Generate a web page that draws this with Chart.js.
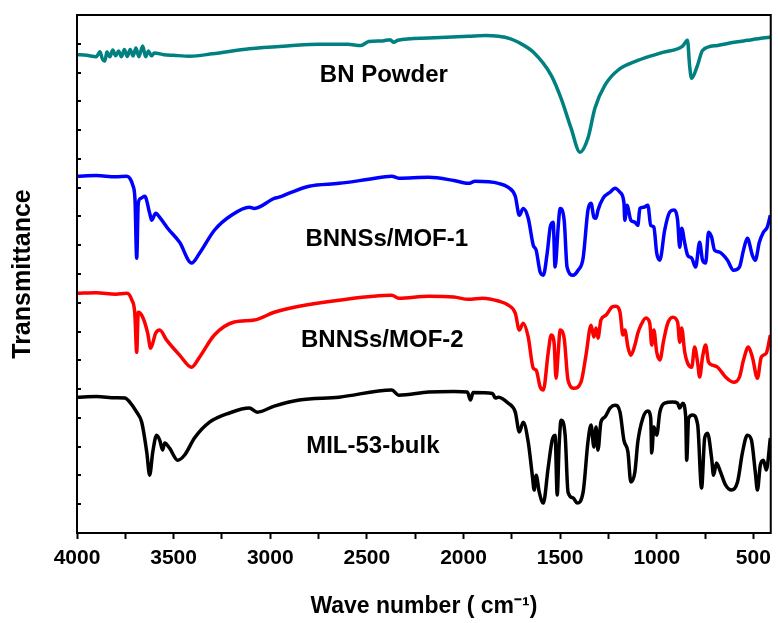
<!DOCTYPE html>
<html>
<head>
<meta charset="utf-8">
<script src="https://cdn.jsdelivr.net/npm/chart.js@4.4.1/dist/chart.umd.min.js"></script>
<style>
  html, body { margin: 0; padding: 0; background: #fff; }
  #wrap { width: 778px; height: 623px; }
</style>
</head>
<body>
<div id="wrap"><canvas id="c" width="778" height="623"></canvas></div>
<script>
// FTIR spectra, stacked with arbitrary offsets (transmittance, a.u.)
const xTicks = [4000, 3750, 3500, 3250, 3000, 2750, 2500, 2250, 2000, 1750, 1500, 1250, 1000, 750, 500];
const yTicks = [0, 1, 2, 3, 4, 5, 6, 7, 8, 9, 10, 11, 12, 13, 14, 15, 16, 17, 18];

const bnWave = [4000, 3950, 3900, 3881, 3870, 3856, 3845, 3830, 3815, 3800, 3785, 3770, 3755, 3740, 3725, 3710, 3695, 3680, 3660, 3645, 3630, 3615, 3600, 3550, 3500, 3417, 3300, 3108, 2900, 2747, 2600, 2531, 2490, 2420, 2380, 2361, 2340, 2180, 1974, 1886, 1819, 1760, 1716, 1639, 1546, 1495, 1443, 1397, 1356, 1320, 1268, 1201, 1098, 969, 866, 841, 830, 820, 789, 763, 686, 600, 531, 450, 412];
const bnT = [16.62, 16.60, 16.55, 16.72, 16.50, 16.40, 16.72, 16.55, 16.78, 16.58, 16.75, 16.55, 16.80, 16.56, 16.80, 16.58, 16.85, 16.55, 16.92, 16.55, 16.75, 16.58, 16.68, 16.62, 16.60, 16.57, 16.65, 16.83, 16.93, 16.98, 16.98, 16.94, 17.08, 17.10, 17.14, 17.05, 17.12, 17.20, 17.26, 17.29, 17.26, 17.18, 17.05, 16.71, 15.90, 15.10, 14.06, 13.23, 13.72, 14.76, 15.56, 16.08, 16.42, 16.70, 16.92, 17.12, 16.25, 15.80, 16.25, 16.77, 16.94, 17.05, 17.12, 17.20, 17.23];

const mof1Wave = [4000, 3900, 3800, 3742, 3727, 3711, 3700, 3691, 3683, 3670, 3649, 3624, 3613, 3593, 3572, 3531, 3469, 3407, 3366, 3289, 3201, 3108, 3082, 2979, 2954, 2902, 2799, 2644, 2490, 2371, 2335, 2180, 2050, 1974, 1940, 1819, 1768, 1732, 1711, 1691, 1665, 1639, 1624, 1603, 1587, 1567, 1551, 1536, 1526, 1510, 1500, 1479, 1464, 1433, 1407, 1381, 1356, 1340, 1325, 1314, 1304, 1278, 1242, 1216, 1190, 1170, 1165, 1154, 1134, 1113, 1098, 1087, 1067, 1046, 1031, 1015, 1000, 984, 959, 933, 912, 892, 881, 871, 855, 840, 819, 799, 778, 763, 747, 732, 716, 701, 675, 634, 603, 572, 551, 531, 505, 490, 469, 448, 428, 412];
const mof1T = [12.40, 12.42, 12.38, 12.40, 12.33, 12.08, 11.60, 9.55, 11.46, 11.63, 11.70, 11.11, 10.87, 11.11, 10.97, 10.59, 10.10, 9.38, 9.72, 10.52, 11.04, 11.32, 11.28, 11.63, 11.67, 11.81, 12.05, 12.15, 12.29, 12.40, 12.33, 12.36, 12.25, 12.15, 12.22, 12.15, 12.01, 11.70, 11.04, 11.28, 10.94, 10.00, 9.83, 9.06, 8.96, 9.72, 10.63, 10.80, 9.24, 10.63, 11.28, 10.87, 9.24, 8.96, 9.13, 9.55, 11.22, 11.46, 10.97, 10.94, 11.22, 11.63, 11.84, 11.98, 11.84, 11.49, 10.87, 11.39, 10.87, 10.80, 10.69, 11.28, 11.32, 11.39, 10.69, 10.63, 9.72, 9.48, 10.52, 11.15, 11.22, 10.87, 9.93, 10.59, 10.07, 9.65, 9.55, 9.24, 10.10, 9.48, 9.38, 10.45, 10.28, 9.83, 9.76, 9.48, 9.13, 9.24, 9.83, 10.24, 9.65, 9.48, 10.10, 10.45, 10.63, 11.04];

const mof2Wave = [4000, 3900, 3800, 3742, 3716, 3701, 3691, 3683, 3660, 3634, 3619, 3593, 3572, 3536, 3469, 3407, 3366, 3289, 3186, 3082, 2979, 2850, 2644, 2371, 2335, 2180, 2050, 1974, 1900, 1819, 1768, 1732, 1711, 1691, 1665, 1639, 1624, 1603, 1587, 1562, 1546, 1531, 1521, 1510, 1500, 1479, 1459, 1428, 1392, 1366, 1340, 1325, 1314, 1304, 1289, 1263, 1232, 1211, 1190, 1175, 1165, 1149, 1134, 1113, 1098, 1082, 1056, 1036, 1026, 1015, 1000, 984, 964, 943, 917, 892, 881, 871, 855, 840, 819, 804, 788, 778, 763, 747, 732, 711, 685, 644, 603, 572, 551, 526, 505, 479, 459, 433, 412];
const mof2T = [8.33, 8.35, 8.30, 8.33, 8.09, 7.64, 6.28, 7.67, 7.50, 6.94, 6.42, 6.94, 7.05, 6.70, 6.18, 5.76, 6.11, 6.88, 7.33, 7.40, 7.67, 7.88, 8.09, 8.26, 8.16, 8.23, 8.20, 8.12, 8.16, 8.06, 7.92, 7.64, 7.05, 7.29, 6.81, 5.73, 5.66, 5.07, 4.97, 6.25, 6.88, 6.60, 5.38, 6.25, 7.05, 6.77, 5.31, 5.03, 5.24, 6.18, 7.22, 6.81, 7.12, 6.77, 7.40, 7.57, 7.85, 7.88, 7.67, 6.88, 7.05, 6.46, 6.18, 6.53, 6.94, 7.22, 7.47, 7.29, 6.53, 7.05, 6.28, 6.01, 6.70, 7.29, 7.50, 7.33, 6.63, 7.12, 6.28, 5.90, 5.76, 6.46, 5.90, 5.42, 6.11, 6.53, 5.94, 5.83, 5.76, 5.42, 5.24, 5.42, 6.01, 6.46, 6.11, 5.38, 6.11, 6.25, 6.88];

const milWave = [4000, 3900, 3800, 3753, 3727, 3691, 3665, 3639, 3624, 3608, 3588, 3572, 3557, 3546, 3521, 3479, 3443, 3392, 3314, 3211, 3108, 3067, 2979, 2850, 2644, 2371, 2335, 2180, 2050, 1980, 1964, 1950, 1850, 1835, 1819, 1768, 1732, 1711, 1691, 1665, 1644, 1634, 1624, 1608, 1587, 1562, 1541, 1526, 1515, 1505, 1495, 1474, 1459, 1433, 1412, 1381, 1356, 1340, 1325, 1314, 1304, 1289, 1268, 1242, 1216, 1190, 1170, 1149, 1134, 1113, 1098, 1072, 1046, 1031, 1026, 1015, 1000, 984, 959, 917, 892, 881, 866, 850, 845, 835, 814, 788, 768, 752, 737, 716, 706, 691, 670, 644, 613, 582, 556, 531, 510, 490, 479, 464, 448, 433, 412];
const milT = [4.72, 4.74, 4.70, 4.69, 4.55, 4.20, 3.85, 2.81, 2.01, 2.81, 3.40, 3.23, 2.88, 3.13, 2.95, 2.53, 2.71, 3.30, 3.85, 4.17, 4.34, 4.20, 4.41, 4.62, 4.72, 4.97, 4.79, 4.90, 4.92, 4.90, 4.62, 4.88, 4.85, 4.69, 4.72, 4.51, 4.20, 3.51, 3.85, 3.16, 2.01, 1.49, 2.01, 1.42, 1.04, 2.26, 3.23, 3.40, 1.32, 3.06, 3.92, 3.40, 1.42, 1.22, 1.04, 1.42, 3.16, 3.75, 2.99, 3.68, 2.88, 3.85, 4.03, 4.34, 4.44, 4.20, 3.23, 2.81, 1.77, 2.12, 3.16, 3.99, 4.24, 3.99, 2.78, 3.68, 3.40, 4.20, 4.51, 4.55, 4.51, 4.34, 4.51, 4.03, 2.53, 3.99, 4.10, 3.75, 1.56, 3.30, 3.47, 2.60, 2.01, 2.43, 2.12, 1.67, 1.49, 1.77, 2.81, 3.40, 3.23, 2.12, 1.49, 2.36, 2.53, 2.19, 3.30];

const seriesNames = ['BN Powder', 'BNNSs/MOF-1', 'BNNSs/MOF-2', 'MIL-53-bulk'];
const seriesColors = ['#008080', '#0000FF', '#FF0000', '#000000'];
// where each curve's name sits (wave number, transmittance)
const labelWave = [2412, 2397, 2420, 2469];
const labelT = [15.90, 10.21, 6.70, 3.02];

const FAM = '"Liberation Sans", Arial, Helvetica, sans-serif';
const pts = (w, t) => w.map((x, i) => ({ x, y: t[i] }));
const waves = [bnWave, mof1Wave, mof2Wave, milWave];
const trans = [bnT, mof1T, mof2T, milT];

// frame, inward y ticks and the curve names
const extras = {
  id: 'extras',
  afterDatasetsDraw(chart) {
    const { ctx, chartArea: a, scales: { x, y } } = chart;
    ctx.save();
    ctx.strokeStyle = '#000';
    ctx.lineWidth = 2;
    ctx.strokeRect(a.left, a.top, a.right - a.left, a.bottom - a.top);
    ctx.beginPath();
    for (const v of yTicks) {
      const py = Math.round(y.getPixelForValue(v));
      ctx.moveTo(a.left, py); ctx.lineTo(a.left + 4, py);
    }
    ctx.stroke();
    ctx.fillStyle = '#000';
    ctx.font = 'bold 24px ' + FAM;
    ctx.textAlign = 'center';
    ctx.textBaseline = 'middle';
    seriesNames.forEach((n, i) => ctx.fillText(n, x.getPixelForValue(labelWave[i]), y.getPixelForValue(labelT[i])));
    ctx.restore();
  },
};

new Chart(document.getElementById('c'), {
  type: 'line',
  data: {
    datasets: seriesNames.map((n, i) => ({
      label: n, data: pts(waves[i], trans[i]), borderColor: seriesColors[i], backgroundColor: seriesColors[i],
      borderWidth: 3.5, pointRadius: 0, cubicInterpolationMode: 'monotone', fill: false,
    })),
  },
  options: {
    responsive: false, animation: false, events: [],
    layout: { padding: { top: 15, right: 5, left: 0, bottom: 0 } },
    plugins: { legend: { display: false }, tooltip: { enabled: false } },
    scales: {
      x: {
        type: 'linear', reverse: true, min: 410, max: 4000,
        afterBuildTicks: (s) => { s.ticks = xTicks.map((v) => ({ value: v })); },
        afterFit: (s) => { s.height = 90; },
        ticks: { autoSkip: false, maxRotation: 0, padding: 7, color: '#000', font: { family: FAM, size: 21, weight: 'bold' },
          callback: (v) => (v % 500 === 0 ? String(v) : '') },
        grid: { display: true, drawOnChartArea: false, drawTicks: true, tickLength: 6, tickWidth: 2, color: '#000' },
        border: { display: true, width: 2, color: '#000' },
        title: { display: true, text: 'Wave number ( cm⁻¹)', color: '#000', padding: { top: 0, bottom: 3 }, font: { family: FAM, size: 23, weight: 'bold' } },
      },
      y: {
        type: 'linear', min: 0, max: 18,
        afterBuildTicks: (s) => { s.ticks = yTicks.map((v) => ({ value: v })); },
        afterFit: (s) => { s.width = 77; },
        ticks: { display: false },
        grid: { display: false },
        border: { display: true, width: 2, color: '#000' },
        title: { display: true, text: 'Transmittance', color: '#000', padding: { top: 8, bottom: 0 }, font: { family: FAM, size: 25, weight: 'bold' } },
      },
    },
  },
  plugins: [extras],
});
</script>
</body>
</html>
